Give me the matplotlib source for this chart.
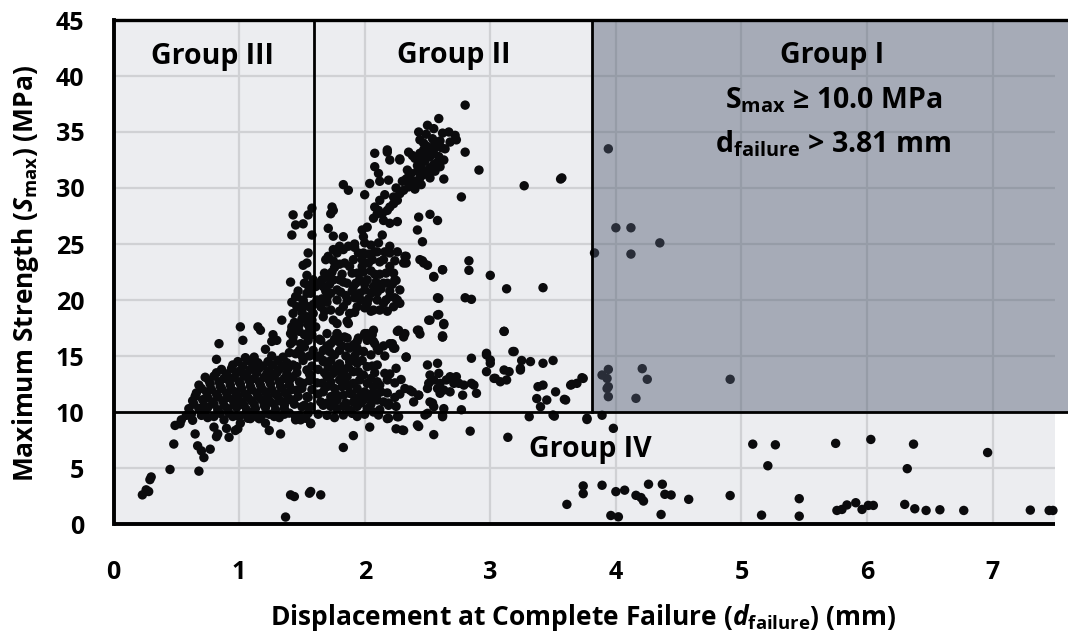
import matplotlib
matplotlib.use('Agg')
import matplotlib.pyplot as plt
from matplotlib.patches import Rectangle

FONT = 'Open Sans'
plt.rcParams['font.family'] = [FONT, 'DejaVu Sans']
plt.rcParams['font.weight'] = 'bold'
plt.rcParams['mathtext.fontset'] = 'custom'
plt.rcParams['mathtext.rm'] = FONT + ':bold'
plt.rcParams['mathtext.it'] = FONT + ':italic:bold'
plt.rcParams['mathtext.bf'] = FONT + ':bold'

# ---------------- data ----------------
x_ticks = [0, 1, 2, 3, 4, 5, 6, 7]
y_ticks = [0, 5, 10, 15, 20, 25, 30, 35, 40, 45]
s_threshold = 10.0      # MPa
d_threshold = 3.81      # mm
d_group3 = 1.6          # mm
x_max_data = 7.5

group_labels = ["Group III", "Group II", "Group I", "Group IV"]
group1_rule_1 = r"S$_{\mathrm{max}}$ ≥ 10.0 MPa"
group1_rule_2 = r"d$_{\mathrm{failure}}$ > 3.81 mm"
x_title = r'Displacement at Complete Failure ($d_{\mathrm{failure}}$) (mm)'
y_title = r'Maximum Strength ($S_{\mathrm{max}}$) (MPa)'

# Group IV (S_max < 10 MPa)
pts_group4 = [
    (0.23, 2.6), (0.26, 3.05), (0.29, 3.96), (0.28, 2.9), (0.30, 4.2),
    (0.45, 4.87), (0.68, 4.72), (0.48, 7.14), (0.49, 8.8), (0.53, 8.95), (0.54, 9.3),
    (0.58, 9.7), (0.63, 9.26), (0.65, 8.04), (0.67, 6.98), (0.70, 6.53), (0.72, 5.93),
    (0.77, 6.68), (0.80, 8.65), (0.83, 8.04), (0.82, 7.8), (0.90, 8.54), (0.92, 7.74),
    (0.97, 8.35), (0.99, 8.5), (1.01, 9.0), (1.07, 9.44), (1.09, 9.41), (1.14, 9.58),
    (1.21, 9.0), (1.24, 8.35), (1.33, 8.04), (1.45, 9.58), (1.49, 9.3), (1.57, 8.95),
    (0.85, 9.88), (0.75, 9.5), (0.70, 9.7), (0.88, 9.3), (0.95, 9.6), (1.05, 9.8),
    (1.18, 9.7), (1.28, 9.6), (1.36, 9.8), (1.53, 9.44), (1.45, 9.3), (1.57, 9.0),
    (0.62, 9.8), (0.72, 9.9), (0.80, 9.6), (0.92, 9.9), (1.00, 9.6), (1.10, 9.9),
    (1.16, 9.4), (1.24, 9.8), (1.32, 9.5), (1.40, 9.9), (1.48, 9.7), (1.55, 9.9),
    (1.37, 0.62), (1.41, 2.6), (1.44, 2.45), (1.56, 2.75), (1.57, 2.9), (1.65, 2.6),
    (1.83, 6.83), (1.91, 7.89), (2.04, 8.65), (2.18, 9.41), (2.25, 8.5), (2.31, 8.35),
    (2.43, 8.71), (2.55, 7.98), (2.62, 9.7), (2.84, 8.29), (3.14, 7.74),
    (1.83, 9.73), (1.90, 9.88), (2.11, 9.73), (2.19, 9.44), (2.27, 9.58), (2.26, 9.58),
    (2.48, 9.73), (2.62, 9.58), (2.50, 9.88), (2.30, 8.39), (2.42, 8.84), (1.94, 9.6),
    (1.70, 9.7), (1.76, 9.5), (2.00, 9.8), (1.63, 9.8),
    (3.31, 9.58), (3.50, 9.73), (3.51, 9.63), (3.77, 9.44), (3.77, 9.33), (3.89, 9.71),
    (3.98, 8.54),
    (3.61, 1.75), (3.74, 3.4), (3.74, 2.71), (3.89, 3.46), (4.00, 2.89), (4.07, 3.02),
    (4.16, 2.56), (4.20, 2.36), (4.22, 2.05), (4.26, 3.55), (4.37, 3.55), (4.39, 2.65),
    (4.44, 2.59), (4.58, 2.2), (4.91, 2.54), (3.96, 0.76), (4.02, 0.64), (4.36, 0.85),
    (5.16, 0.79), (5.46, 2.26), (5.46, 0.7), (5.76, 1.21), (5.80, 1.3), (5.84, 1.7),
    (5.91, 1.9), (5.96, 1.3), (6.01, 1.66), (6.05, 1.66), (6.30, 1.75), (6.38, 1.36),
    (6.47, 1.21), (6.58, 1.27), (6.77, 1.21), (7.30, 1.24), (7.45, 1.21), (7.48, 1.21),
    (5.09, 7.13), (5.27, 7.07), (5.21, 5.2), (5.75, 7.2), (6.03, 7.55), (6.37, 7.13),
    (6.32, 4.94), (6.96, 6.38),
]

# Group III (d < 1.6 mm, S_max >= 10 MPa)
pts_group3 = [
    (0.60, 10.3), (0.68, 10.3), (0.75, 10.4), (0.83, 10.2), (0.91, 10.3), (0.98, 10.4),
    (1.06, 10.2), (1.13, 10.3), (1.21, 10.4), (1.29, 10.2), (1.36, 10.3),
    (0.64, 10.7), (0.72, 10.6), (0.80, 10.7), (0.88, 10.6), (0.96, 10.7), (1.04, 10.6),
    (1.12, 10.7), (1.20, 10.6), (1.28, 10.7), (1.36, 10.6), (1.44, 10.7), (1.52, 10.6),
    (0.63, 11.0), (0.71, 11.1), (0.79, 10.9), (0.87, 11.0), (0.95, 11.1), (1.02, 10.9),
    (1.10, 11.0), (1.18, 11.1), (1.25, 10.9), (1.33, 11.0), (1.40, 11.1),
    (0.65, 11.4), (0.75, 11.3), (0.83, 11.4), (0.91, 11.3), (0.99, 11.4), (1.07, 11.3),
    (1.15, 11.4), (1.23, 11.3), (1.31, 11.4), (1.39, 11.3), (1.47, 11.4), (1.55, 11.3),
    (0.66, 11.7), (0.74, 11.8), (0.82, 11.6), (0.90, 11.7), (0.97, 11.8), (1.05, 11.6),
    (1.14, 11.7), (1.21, 11.8), (1.29, 11.6), (1.37, 11.7),
    (0.70, 12.1), (0.78, 12.0), (0.86, 12.1), (0.94, 12.0), (1.02, 12.1), (1.10, 12.0),
    (1.18, 12.1), (1.26, 12.0), (1.34, 12.1), (1.42, 12.0), (1.50, 12.1), (1.58, 12.0),
    (0.68, 12.4), (0.77, 12.5), (0.85, 12.3), (0.93, 12.4), (1.01, 12.5), (1.09, 12.3),
    (1.17, 12.4), (1.25, 12.5), (1.33, 12.3), (1.40, 12.4),
    (0.76, 12.8), (0.84, 12.7), (0.92, 12.8), (1.00, 12.7), (1.08, 12.8), (1.16, 12.7),
    (1.24, 12.8), (1.32, 12.7), (1.40, 12.8), (1.48, 12.7), (1.56, 12.8),
    (0.73, 13.1), (0.80, 13.2), (0.88, 13.0), (0.96, 13.1), (1.04, 13.2), (1.12, 13.0),
    (1.20, 13.1), (1.28, 13.2), (1.36, 13.0),
    (0.82, 13.5), (0.90, 13.4), (0.98, 13.5), (1.06, 13.4), (1.14, 13.5), (1.22, 13.4),
    (1.30, 13.5), (1.38, 13.4), (1.46, 13.5), (1.56, 13.4),
    (0.86, 13.8), (0.94, 13.9), (1.01, 13.7), (1.09, 13.8), (1.16, 13.9), (1.24, 13.7),
    (1.32, 13.8), (1.39, 13.9),
    (0.95, 14.2), (1.03, 14.1), (1.11, 14.2), (1.19, 14.1), (1.27, 14.2), (1.35, 14.1),
    (1.43, 14.2), (1.58, 14.1),
    (0.99, 14.5), (1.07, 14.6), (1.15, 14.4), (1.23, 14.5), (1.31, 14.6), (1.38, 14.4),
    (1.12, 14.9), (1.26, 15.0), (1.35, 14.9), (1.50, 15.0),
    (1.03, 16.4), (1.05, 14.85), (0.82, 14.7), (0.84, 16.1), (1.01, 17.6), (1.15, 17.6),
    (1.17, 17.3), (1.21, 15.6), (1.27, 16.9), (1.30, 16.4), (1.26, 16.3), (1.34, 18.2),
    (1.42, 17.6), (1.41, 16.1), (1.43, 16.3), (1.45, 20.3), (1.51, 19.85), (1.50, 19.1),
    (1.55, 18.5), (1.57, 20.6), (1.46, 19.4), (1.42, 17.3),
    (1.43, 16.7), (1.49, 16.1), (1.45, 15.2), (1.51, 14.6), (1.46, 14.05), (1.54, 13.75),
    (1.43, 13.15), (1.51, 12.56), (1.57, 12.86), (1.46, 11.96), (1.54, 11.37),
    (1.43, 11.07), (1.50, 10.47), (1.57, 10.47), (1.59, 15.5), (1.55, 16.4),
    (1.40, 15.3), (1.48, 15.5), (1.56, 15.0), (1.52, 16.9), (1.58, 16.9), (1.48, 17.8),
    (1.56, 17.6), (1.50, 18.3), (1.58, 18.2), (1.53, 19.5), (1.59, 19.6), (1.42, 19.8),
    (1.47, 20.8), (1.52, 21.5), (1.56, 21.0), (1.44, 18.0), (1.50, 18.9), (1.57, 19.3),
    (1.41, 17.0), (1.48, 17.2), (1.55, 17.8), (1.52, 15.8),
    (1.58, 28.2), (1.55, 27.6), (1.43, 27.6), (1.45, 26.7), (1.42, 25.8), (1.51, 26.8),
    (1.58, 25.8), (1.55, 24.2), (1.54, 23.3), (1.51, 23.1), (1.41, 21.6), (1.46, 20.3),
    (1.51, 20.0), (1.54, 20.6), (1.49, 19.4), (1.43, 18.8), (1.53, 18.5), (1.46, 17.6),
    (1.54, 17.0), (1.59, 21.8), (1.59, 18.8), (1.54, 22.2), (1.55, 21.3),
]

# Group II (1.6 <= d <= 3.81 mm, S_max >= 10 MPa)
pts_group2 = [
    # upper diagonal streak
    (2.08, 28.3), (2.11, 28.0), (2.14, 27.7), (2.18, 28.0), (2.20, 28.3), (2.23, 28.6),
    (2.26, 28.9), (2.28, 29.5), (2.31, 29.8), (2.35, 30.1), (2.38, 30.4), (2.40, 30.6),
    (2.44, 30.9), (2.47, 31.2), (2.50, 31.5), (2.52, 31.8), (2.55, 32.1), (2.58, 32.3),
    (2.59, 32.8), (2.55, 33.1), (2.52, 33.4), (2.50, 33.7), (2.47, 34.0), (2.44, 34.3),
    (2.43, 35.0), (2.50, 35.6), (2.59, 36.2), (2.62, 34.9), (2.67, 35.0), (2.72, 34.7),
    (2.73, 34.3), (2.63, 32.5), (2.56, 31.5), (2.63, 30.8), (2.80, 33.2), (2.91, 31.6),
    (2.77, 29.2), (2.80, 37.4), (2.35, 31.0), (2.42, 31.5), (2.35, 33.2), (2.38, 32.9),
    (2.40, 32.65), (2.44, 33.1), (2.47, 33.4), (2.52, 32.8), (2.28, 32.5), (2.20, 32.5),
    (2.18, 33.4), (2.08, 33.1), (2.08, 31.9), (2.11, 31.3), (2.04, 30.4), (2.12, 30.6),
    (2.19, 30.7), (2.00, 29.4), (1.83, 30.3), (1.87, 29.8), (2.07, 27.3), (2.14, 25.8),
    (2.02, 26.5), (1.98, 26.25), (1.99, 25.65), (2.10, 27.7), (2.15, 27.1), (2.20, 26.85),
    (2.26, 27.0), (2.54, 34.4), (2.57, 33.7), (2.61, 33.6), (2.48, 32.4), (2.45, 31.9),
    (2.18, 33.2), (2.28, 32.6), (2.34, 31.6), (2.23, 29.2), (2.30, 30.6),
    (2.12, 28.9), (2.16, 29.4), (2.25, 30.0), (2.33, 30.8), (2.37, 31.3), (2.42, 32.0),
    (2.46, 32.5), (2.50, 33.0), (2.56, 34.0), (2.60, 34.2), (2.49, 34.8), (2.55, 35.3),
    (2.64, 33.5), (2.68, 34.1), (2.40, 29.9), (2.45, 30.3), (2.52, 30.9), (2.60, 31.9),
    (1.74, 28.3), (1.75, 28.0), (1.73, 27.7), (1.71, 26.4), (1.75, 25.7), (1.83, 25.65),
    (3.27, 30.2), (3.56, 30.8),
    (2.43, 27.4), (2.52, 27.65), (2.58, 27.1), (2.42, 26.25), (2.46, 25.2),
    (2.83, 23.5), (2.83, 22.65), (3.00, 22.2), (3.13, 21.0), (3.42, 21.1), (2.55, 22.05),
    (2.62, 22.7), (2.46, 23.5), (2.50, 23.1), (2.33, 23.9), (2.33, 23.3), (2.25, 21.75),
    (2.80, 20.2), (2.58, 20.2), (2.85, 20.06), (3.11, 17.2), (2.58, 18.66), (2.51, 18.2),
    (2.63, 17.8), (2.62, 16.8), (2.43, 17.3), (2.44, 16.96), (2.26, 17.2), (2.31, 16.7),
    (2.22, 16.1), (2.24, 15.7), (2.33, 14.9), (2.00, 17.0), (2.06, 16.9), (2.07, 16.3),
    (2.11, 15.5), (1.87, 17.9), (1.78, 17.0), (1.79, 16.3), (1.86, 16.6), (1.88, 15.7),
    (1.94, 15.4), (1.99, 15.4), (2.62, 16.7), (2.52, 18.2), (2.59, 18.7), (2.63, 17.9),
    (2.59, 20.15), (2.62, 22.7), (2.55, 22.1), (2.47, 23.3), (2.44, 23.6), (2.32, 23.9),
    (2.31, 23.3), (2.26, 24.3), (2.20, 24.8), (2.23, 22.4), (2.24, 21.8), (2.20, 23.0),
    (2.15, 23.6), (2.11, 25.1), (2.10, 24.3), (2.02, 17.0), (2.07, 17.3), (2.27, 17.3),
    (2.32, 17.0), (2.42, 17.3),
    # middle dense cloud (18-26 MPa)
    (1.80, 24.8), (1.75, 24.5), (1.71, 23.9), (1.69, 23.6), (1.78, 24.2), (1.83, 24.5),
    (1.87, 24.8), (1.84, 23.3), (1.88, 23.0), (1.91, 23.6), (1.94, 22.4), (1.98, 23.0),
    (2.03, 23.3), (2.06, 23.6), (1.96, 21.8), (2.02, 21.8), (2.07, 21.2), (1.96, 20.6),
    (1.91, 21.2), (1.86, 21.5), (1.80, 21.8), (1.75, 21.8), (1.70, 22.1), (1.66, 21.8),
    (1.67, 21.2), (1.73, 20.6), (1.78, 20.0), (1.83, 19.4), (1.88, 18.8), (1.94, 19.4),
    (2.02, 19.7), (2.10, 20.0), (2.15, 19.7), (2.20, 20.3), (2.26, 20.0), (2.28, 19.7),
    (2.23, 19.4), (2.07, 19.1), (2.00, 19.3), (1.86, 18.1), (1.75, 18.2), (1.67, 18.5),
    (1.65, 19.4), (1.73, 19.1), (1.78, 17.9), (1.61, 21.2), (1.62, 20.0), (1.61, 17.6),
    (1.85, 20.4), (1.92, 20.2), (2.05, 20.6), (2.13, 21.0),
    (2.18, 21.5), (2.12, 22.3), (2.05, 22.6), (1.99, 24.2), (1.92, 24.7), (2.16, 24.3),
    (1.70, 19.8), (1.80, 23.2), (1.76, 22.9),
    (1.68, 19.0), (1.80, 19.0), (1.92, 18.9), (2.05, 19.0), (2.12, 19.1), (2.18, 19.0),
    (1.66, 20.1), (1.70, 20.2), (1.86, 19.9), (1.97, 20.0), (2.03, 20.1), (2.17, 20.0),
    (2.24, 20.2), (1.69, 20.8), (1.78, 20.9), (1.81, 20.7), (1.90, 20.8), (2.00, 20.9),
    (2.10, 20.7), (2.20, 20.8), (2.28, 20.9), (1.64, 21.5), (1.72, 21.4), (1.83, 21.6),
    (1.93, 21.5), (2.00, 21.4), (2.09, 21.6), (2.15, 21.5), (2.22, 21.4), (1.68, 22.4),
    (1.74, 22.5), (1.82, 22.3), (1.90, 22.4), (1.99, 22.5), (2.08, 22.3), (2.17, 22.4),
    (1.75, 23.5), (1.98, 23.6), (2.12, 23.4), (2.24, 23.5), (1.95, 24.2), (2.03, 24.1),
    (2.08, 24.3), (2.20, 24.2), (1.92, 25.0), (2.00, 25.1), (2.05, 24.9),
    # lower dense cloud (10-17 MPa)
    (1.67, 14.5), (1.73, 14.6), (1.80, 14.3), (1.88, 14.5), (1.94, 14.35), (1.98, 14.6),
    (2.02, 14.05), (2.10, 14.2), (2.16, 13.45), (2.18, 12.86), (2.12, 12.4), (2.07, 12.26),
    (2.02, 12.56), (1.96, 12.86), (1.91, 12.56), (1.86, 13.15), (1.80, 12.86), (1.75, 13.45),
    (1.70, 13.15), (1.66, 12.56), (1.67, 11.8), (1.73, 11.37), (1.78, 11.07), (1.83, 11.5),
    (1.88, 11.67), (1.94, 11.2), (1.99, 11.07), (2.04, 11.37), (2.10, 11.07), (2.15, 10.9),
    (2.19, 10.8), (2.12, 10.2), (2.07, 10.0), (2.02, 10.3), (1.94, 10.5), (1.88, 10.2),
    (1.83, 10.5), (1.78, 10.3), (1.73, 10.5), (1.67, 10.6), (1.65, 10.9), (1.70, 12.26),
    (1.76, 12.1), (1.82, 12.26), (1.87, 12.26), (1.94, 12.1), (2.00, 11.8), (2.06, 11.67),
    (1.80, 15.5), (1.87, 15.8), (1.94, 15.7), (1.99, 15.4), (1.84, 16.7), (1.78, 17.0),
    (2.04, 16.9), (2.08, 16.1), (2.10, 15.7), (2.20, 16.1), (2.23, 15.7), (2.02, 16.4),
    (1.94, 16.3), (1.73, 16.1), (1.67, 15.5), (1.65, 16.4), (1.70, 17.0), (1.62, 14.9),
    (1.63, 13.8), (1.67, 14.6), (1.72, 15.4), (1.77, 13.9), (1.84, 13.8), (1.91, 13.6),
    (1.99, 13.3), (2.05, 13.0), (2.13, 11.8), (2.24, 11.3), (2.29, 12.9), (2.25, 13.9),
    (1.70, 10.8), (1.76, 10.9), (1.85, 10.8), (1.91, 10.9), (1.97, 10.8), (2.05, 10.7),
    (2.25, 10.5), (1.63, 11.6), (1.77, 11.6), (1.90, 11.6), (1.97, 11.5), (2.10, 11.6),
    (2.18, 11.7), (2.28, 11.6), (1.62, 12.6), (1.73, 12.7), (1.85, 12.6), (2.10, 12.7),
    (2.24, 12.6), (1.68, 13.5), (1.81, 13.5), (1.95, 13.6), (2.08, 13.5), (2.20, 13.4),
    (1.71, 14.0), (1.78, 14.1), (1.87, 14.0), (2.06, 14.1), (1.64, 15.0), (1.76, 15.1),
    (1.85, 15.0), (1.92, 15.0), (2.05, 15.1), (2.16, 15.0), (1.70, 15.9), (1.82, 15.9),
    (1.91, 16.0), (2.15, 15.9), (1.64, 16.5), (1.76, 16.5), (1.95, 16.6),
    # right band (10-16 MPa)
    (2.32, 12.1), (2.36, 11.96), (2.43, 11.5), (2.39, 10.9), (2.50, 14.2), (2.58, 14.35),
    (2.59, 13.45), (2.52, 13.3), (2.51, 12.56), (2.55, 12.86), (2.60, 12.56), (2.65, 12.86),
    (2.71, 12.56), (2.73, 13.15), (2.75, 12.56), (2.79, 12.4), (2.85, 12.56), (2.89, 11.67),
    (2.78, 11.5), (2.68, 11.8), (2.63, 11.96), (2.58, 12.1), (2.55, 10.47), (2.52, 10.9),
    (2.38, 11.8), (2.43, 11.5), (2.50, 12.1), (2.60, 11.67), (2.54, 10.8), (2.63, 10.3),
    (2.77, 10.2), (2.19, 10.6), (2.33, 14.9), (2.62, 16.7), (2.68, 13.15), (2.87, 12.4),
    (2.85, 14.8), (2.97, 15.1), (3.00, 14.35), (2.97, 13.6), (3.04, 13.0), (3.08, 12.7),
    (3.13, 12.86), (3.15, 13.6), (3.11, 13.75), (3.19, 15.4), (3.25, 14.6), (3.24, 13.75),
    (3.32, 14.5), (3.42, 14.35), (3.50, 14.6), (3.38, 12.26), (3.42, 12.4), (3.37, 11.2),
    (3.45, 11.07), (3.52, 11.8), (3.18, 15.4), (3.24, 13.9), (3.40, 10.47), (3.60, 11.07),
    (3.64, 12.4), (3.69, 12.56), (3.74, 13.0), (3.65, 12.47), (3.73, 13.06), (3.59, 11.13),
    (3.11, 17.2), (2.97, 15.24), (3.00, 14.64), (3.03, 13.0),
    (3.57, 30.9),
]

# Group I (d > 3.81 mm, S_max >= 10 MPa)
pts_group1 = [
    (3.94, 33.5), (4.00, 26.45), (4.12, 26.45), (4.35, 25.1), (3.83, 24.2), (4.12, 24.1),
    (3.94, 13.8), (3.89, 13.3), (3.93, 13.0), (3.94, 12.26), (3.93, 12.1), (3.94, 11.37),
    (4.21, 13.87), (4.25, 12.92), (4.16, 11.22), (4.91, 12.92),
]

all_pts = pts_group4 + pts_group3 + pts_group2 + pts_group1
xs = [p[0] for p in all_pts]
ys = [p[1] for p in all_pts]

# ---------------- figure ----------------
W, H = 1068, 633
fig = plt.figure(figsize=(W / 100, H / 100), dpi=100)
ax = fig.add_axes([113.5 / W, (H - 524) / H, 954.5 / W, 504 / H])
ax.set_xlim(0, 7.6)
ax.set_ylim(0, 45)
for sp in ax.spines.values():
    sp.set_visible(False)
ax.set_facecolor('white')

light = '#ecedf0'
grid_c = '#d0d1d4'
ax.add_patch(Rectangle((0, 0), x_max_data, s_threshold, facecolor=light, edgecolor='none', zorder=0))
ax.add_patch(Rectangle((0, s_threshold), 7.6, 45 - s_threshold, facecolor=light,
                       edgecolor='none', zorder=0))

for xv in x_ticks[1:]:
    ax.plot([xv, xv], [0, 45], color=grid_c, lw=1.6, zorder=1, solid_capstyle='butt')
for yv in y_ticks[1:-1]:
    ax.plot([0, x_max_data], [yv, yv], color=grid_c, lw=1.6, zorder=1, solid_capstyle='butt')

ax.scatter(xs, ys, s=46, color='#0b0b0d', edgecolors='none', zorder=3)

# translucent overlay for Group I
ax.add_patch(Rectangle((d_threshold, s_threshold), 7.6 - d_threshold, 45 - s_threshold,
                       facecolor='#4f5a70', alpha=0.445, edgecolor='none', zorder=4))

# group borders
ax.plot([d_group3, d_group3], [s_threshold, 45], color='black', lw=2.0, zorder=5)
ax.plot([d_threshold, d_threshold], [s_threshold, 45], color='black', lw=2.0, zorder=5)
ax.plot([0, 7.6], [s_threshold, s_threshold], color='black', lw=2.0, zorder=5)
ax.plot([0, 7.6], [45, 45], color='black', lw=2.4, zorder=5, clip_on=False)
ax.plot([0, x_max_data], [0, 0], color='black', lw=2.8, zorder=5, clip_on=False,
        solid_capstyle='butt')
ax.plot([0, 0], [0, 45], color='black', lw=2.8, zorder=5, clip_on=False)

ax.set_xticks(x_ticks)
ax.set_yticks(y_ticks)
ax.tick_params(length=0, labelsize=18)
ax.tick_params(axis='x', pad=26)
ax.tick_params(axis='y', pad=21)
for lab in ax.get_xticklabels() + ax.get_yticklabels():
    lab.set_fontweight('bold')

fig.text(583 / W, 1 - 625 / H, x_title, fontsize=19, fontweight='bold',
         ha='center', va='baseline')
fig.text(26 / W, 1 - 273 / H, y_title, fontsize=19, fontweight='bold',
         ha='center', va='center', rotation=90)

tkw = dict(fontsize=20.5, fontweight='bold', ha='center', va='baseline', zorder=6)
ax.text(0.79, 41.1, group_labels[0], **tkw)
ax.text(2.71, 41.2, group_labels[1], **tkw)
ax.text(5.72, 41.2, group_labels[2], **tkw)
ax.text(5.73, 37.1, group1_rule_1, **tkw)
ax.text(5.73, 33.2, group1_rule_2, **tkw)
ax.text(3.80, 6.0, group_labels[3], **tkw)

fig.savefig('out.png', dpi=100)
